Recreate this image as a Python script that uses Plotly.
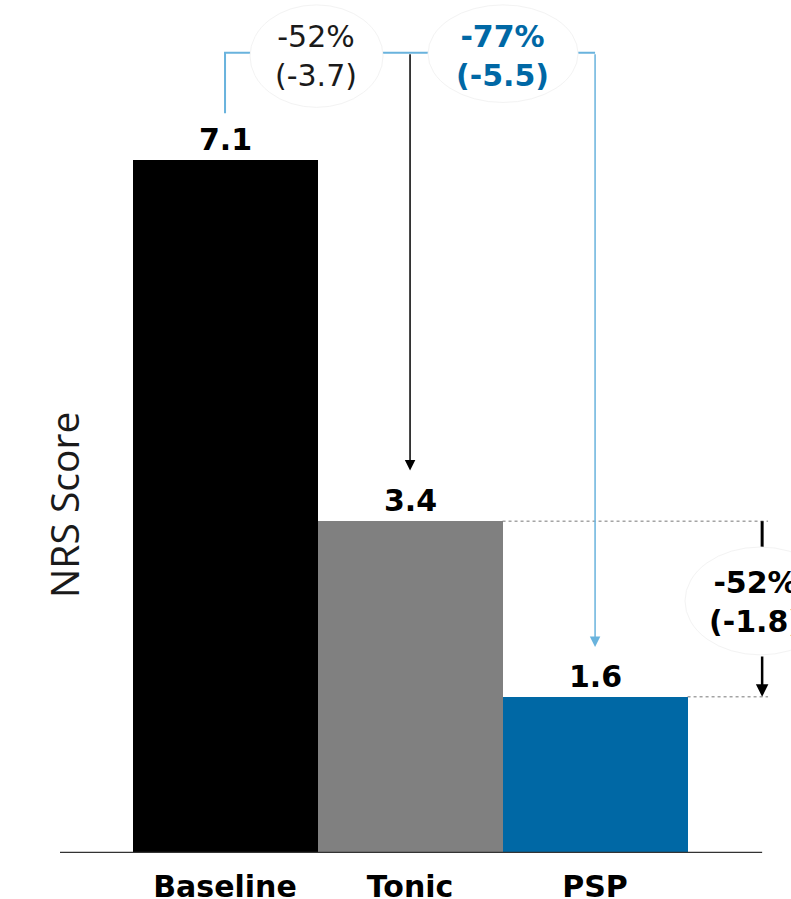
import plotly.graph_objects as go

# ---- data ----
categories = ["Baseline", "Tonic", "PSP"]
nrs_scores = [7.1, 3.4, 1.6]
bar_colors = ["#000000", "#808080", "#0068A5"]
change_top_left = "-52%<br>(-3.7)"
change_top_right = "-77%<br>(-5.5)"
change_side = "-52%<br>(-1.8)"

LIGHT_BLUE = "#69B3DD"
DARK_BLUE = "#0068A5"
VALUE_FONT = "DejaVu Sans"

xs = list(range(len(categories)))
base, tonic, psp = nrs_scores
x_base, x_tonic, x_psp = xs

fig = go.Figure(
    go.Bar(
        x=xs,
        y=nrs_scores,
        width=1.0,
        marker=dict(color=bar_colors, line=dict(width=0)),
        text=[f"{v:.1f}" for v in nrs_scores],
        textposition="outside",
        textfont=dict(family=VALUE_FONT, size=30, color="#000000", weight="bold"),
        cliponaxis=False,
        hoverinfo="skip",
    )
)

bracket_y = 8.2
x_left, x_right = -0.892, 3.059
x_axis_end = 2.903
x_side = 2.903
x_dot_end = 2.935

shapes = []
# x axis line
shapes.append(dict(type="line", xref="x", yref="y", x0=x_left, x1=x_axis_end, y0=0, y1=0,
                   line=dict(color="#333333", width=2.5), layer="above"))
# light-blue bracket (baseline up, across)
shapes.append(dict(type="path", xref="x", yref="y",
                   path=f"M {x_base},{base + 0.48} L {x_base},{bracket_y} L {x_psp},{bracket_y}",
                   line=dict(color=LIGHT_BLUE, width=2), layer="above"))
# dotted guide lines
shapes.append(dict(type="line", xref="x", yref="y", x0=x_tonic + 0.5, x1=x_dot_end, y0=tonic, y1=tonic,
                   line=dict(color="#777777", width=1, dash="dot"), layer="above"))
shapes.append(dict(type="line", xref="x", yref="y", x0=x_psp + 0.5, x1=x_dot_end, y0=psp, y1=psp,
                   line=dict(color="#777777", width=1, dash="dot"), layer="above"))
# side black segment from tonic level
shapes.append(dict(type="line", xref="x", yref="y", x0=x_side, x1=x_side, y0=tonic, y1=tonic - 0.265,
                   line=dict(color="#000000", width=3), layer="above"))
# bubbles
bubble_line = dict(color="#F3F3F3", width=1)
shapes.append(dict(type="circle", xref="x", yref="y", x0=0.135, x1=0.854, y0=7.64, y1=8.69,
                   fillcolor="white", line=bubble_line, layer="above"))
shapes.append(dict(type="circle", xref="x", yref="y", x0=1.097, x1=1.908, y0=7.69, y1=8.69,
                   fillcolor="white", line=bubble_line, layer="above"))
shapes.append(dict(type="circle", xref="x", yref="y", x0=2.486, x1=3.3, y0=2.03, y1=3.135,
                   fillcolor="white", line=bubble_line, layer="above"))

annotations = []
# arrows
annotations.append(dict(x=x_tonic, y=tonic + 0.52, ax=x_tonic, ay=bracket_y, xref="x", yref="y",
                        axref="x", ayref="y", text="", showarrow=True, arrowhead=2, arrowsize=1.4,
                        arrowwidth=1.5, arrowcolor="#000000", standoff=0))
annotations.append(dict(x=x_psp, y=psp + 0.51, ax=x_psp, ay=bracket_y, xref="x", yref="y",
                        axref="x", ayref="y", text="", showarrow=True, arrowhead=2, arrowsize=1.4,
                        arrowwidth=1.5, arrowcolor=LIGHT_BLUE, standoff=0))
annotations.append(dict(x=x_side, y=psp, ax=x_side, ay=2.03, xref="x", yref="y",
                        axref="x", ayref="y", text="", showarrow=True, arrowhead=2, arrowsize=1,
                        arrowwidth=2.5, arrowcolor="#000000", standoff=0))
# bubble texts
annotations.append(dict(x=0.49, y=8.17, xref="x", yref="y", text=change_top_left, showarrow=False,
                        font=dict(family=VALUE_FONT, size=30, color="#1A1A1A"), align="center"))
annotations.append(dict(x=1.497, y=8.17, xref="x", yref="y", text=change_top_right, showarrow=False,
                        font=dict(family=VALUE_FONT, size=30, color=DARK_BLUE, weight="bold"),
                        align="center"))
annotations.append(dict(x=2.865, y=2.57, xref="x", yref="y", text=change_side, showarrow=False,
                        font=dict(family=VALUE_FONT, size=30, color="#000000", weight="bold"),
                        align="center"))
# y-axis title
annotations.append(dict(x=(63 - 60) / 731, y=(853 - 505) / 853, xref="paper", yref="paper",
                        text="NRS Score", textangle=-90, showarrow=False, xanchor="center",
                        yanchor="middle", font=dict(family="Open Sans", size=39, color="#1A1A1A")))

fig.update_layout(
    width=791,
    height=899,
    margin=dict(l=60, r=0, t=0, b=46, autoexpand=False),
    paper_bgcolor="white",
    plot_bgcolor="white",
    showlegend=False,
    bargap=0,
    shapes=shapes,
    annotations=annotations,
    xaxis=dict(range=[x_left, x_right], tickvals=xs, ticktext=categories, showgrid=False,
               zeroline=False, showline=False, ticks="", ticklabelstandoff=13, automargin=False,
               tickfont=dict(family=VALUE_FONT, size=30, color="#000000", weight="bold"),
               fixedrange=True),
    yaxis=dict(range=[0, 8.74], visible=False, fixedrange=True, automargin=False),
)

fig.write_html("out.html")
